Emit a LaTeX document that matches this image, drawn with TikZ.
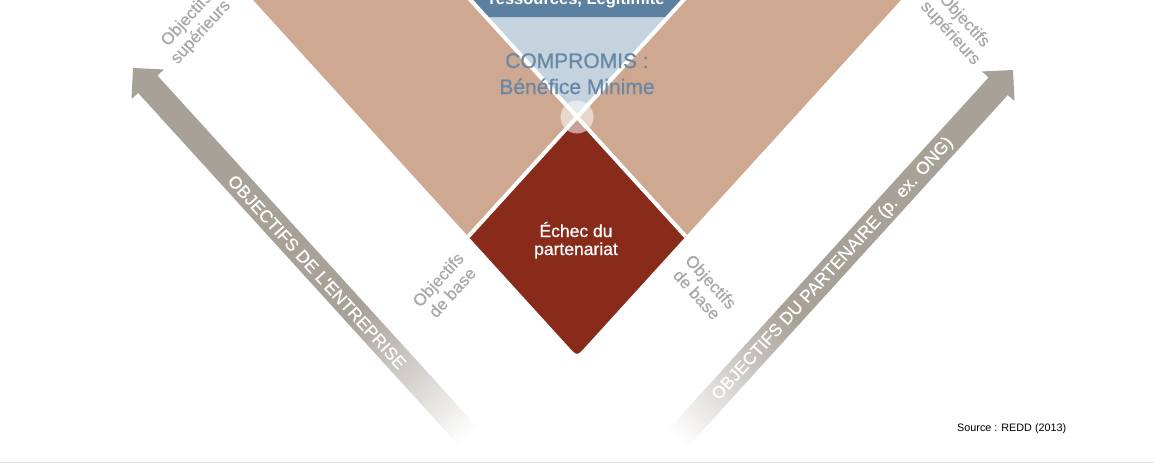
\documentclass[tikz,border=0pt]{standalone}
\usepackage{fontspec}
\setmainfont{Liberation Sans}
\newfontfamily\medfont[FakeBold=0.8]{Liberation Sans}
\newfontfamily\semfont[FakeBold=0.4]{Liberation Sans}
\usetikzlibrary{calc}
\definecolor{tanc}{RGB}{207,168,145}
\definecolor{redc}{RGB}{137,43,27}
\definecolor{lblue}{RGB}{197,211,223}
\definecolor{dblue}{RGB}{92,128,160}
\definecolor{ctext}{RGB}{104,136,166}
\definecolor{arrc}{RGB}{168,161,152}
\definecolor{lgray}{RGB}{170,168,166}
\definecolor{linec}{RGB}{228,228,228}
\tikzset{
  lbl/.style={text=lgray, font=\semfont\fontsize{17}{19}\selectfont, align=center, inner sep=0pt},
  atxt/.style={text=white, font=\semfont\fontsize{17.5}{20}\selectfont, inner sep=0pt},
  sep/.style={white, line width=4},
  arrowbody/.style={fill=arrc}
}
\begin{document}
\begin{tikzpicture}[x=1pt,y=-1pt]
\useasboundingbox (0,0) rectangle (1154,466);
\clip (0,0) rectangle (1154,466);
\fill[white] (0,0) rectangle (1154,466);

% key points
\coordinate (C) at (577,117);
\coordinate (B) at (577,356);
\coordinate (Lv) at (468.3,236.5);
\coordinate (Rv) at (685.7,236.5);
\coordinate (XL) at (461.4,-10);
\coordinate (XR) at (692.6,-10);
\coordinate (TL) at (244,-10);
\coordinate (TR) at (910,-10);
\coordinate (BL) at (486.1,17);
\coordinate (BR) at (667.9,17);

% tan area
\fill[tanc] (TL) -- (TR) -- (Rv) -- (Lv) -- cycle;
% blue triangle
\fill[lblue] (XL) -- (XR) -- (C) -- cycle;
\fill[dblue] (XL) -- (XR) -- (BR) -- (BL) -- cycle;
% red diamond
\fill[redc] (C) -- (Lv) -- ($(B)!12pt!(Lv)$) .. controls (B) .. ($(B)!12pt!(Rv)$) -- (Rv) -- cycle;
% white cross
\draw[sep] (XL) -- (C) -- (Rv);
\draw[sep] (XR) -- (C) -- (Lv);
\fill[white, fill opacity=0.55] (C) circle (16.5pt);

% left arrow
\begin{scope}[shift={(133,68)}, rotate=-47.7]
  \fill[arrowbody] (0,0) -- (22,22) -- (22,13) -- (332,13) -- (332,-13) -- (22,-13) -- (22,-22) -- cycle;
  \foreach \i in {0,...,44} {
    \pgfmathtruncatemacro\p{100*(1-\i/44)}
    \fill[arrc!\p!white] ({330+\i*3.8},-13) rectangle ({334.3+\i*3.8},13);
  }
\end{scope}
% right arrow
\begin{scope}[shift={(1013,70)}, rotate=-132.3]
  \fill[arrowbody] (0,0) -- (22,22) -- (22,13) -- (332,13) -- (332,-13) -- (22,-13) -- (22,-22) -- cycle;
  \foreach \i in {0,...,44} {
    \pgfmathtruncatemacro\p{100*(1-\i/44)}
    \fill[arrc!\p!white] ({330+\i*3.8},-13) rectangle ({334.3+\i*3.8},13);
  }
\end{scope}

% texts
\node[anchor=base, text=white, font=\bfseries\fontsize{16.5}{19}\selectfont, inner sep=0pt] (top) at (577,4) {ressources, Légitimité};
\node[anchor=base, text=ctext, font=\medfont\fontsize{21}{24}\selectfont, inner sep=0pt] (comp1) at (577,68) {COMPROMIS :};
\node[anchor=base, text=ctext, font=\medfont\fontsize{21}{24}\selectfont, inner sep=0pt] (comp2) at (577,94) {Bénéfice Minime};
\node[anchor=base, text=white, font=\medfont\fontsize{17.5}{19}\selectfont, inner sep=0pt] (ech1) at (576,237) {Échec du};
\node[anchor=base, text=white, font=\medfont\fontsize{17.5}{19}\selectfont, inner sep=0pt] (ech2) at (576,255) {partenariat};

\node[lbl, rotate=47.7] (ltop) at (194,26) {Objectifs\\supérieurs};
\node[lbl, rotate=-47.7] (rtop) at (957,27) {Objectifs\\supérieurs};
\node[lbl, rotate=47.7] (lbase) at (445,286) {Objectifs\\de base};
\node[lbl, rotate=-47.7] (rbase) at (704,288) {Objectifs\\de base};

\node[atxt, rotate=-47.7] (ltxt) at (317,272) {OBJECTIFS DE L'ENTREPRISE};
\node[atxt, rotate=47.7] (rtxt) at (833,269) {OBJECTIFS DU PARTENAIRE (p. ex. ONG)};

\node[anchor=base west, font=\fontsize{10.8}{12}\selectfont, inner sep=0pt] (src) at (957,431) {Source : REDD (2013)};

\draw[linec, line width=1.5] (0,462.5) -- (1154,462.5);
\end{tikzpicture}
\end{document}
